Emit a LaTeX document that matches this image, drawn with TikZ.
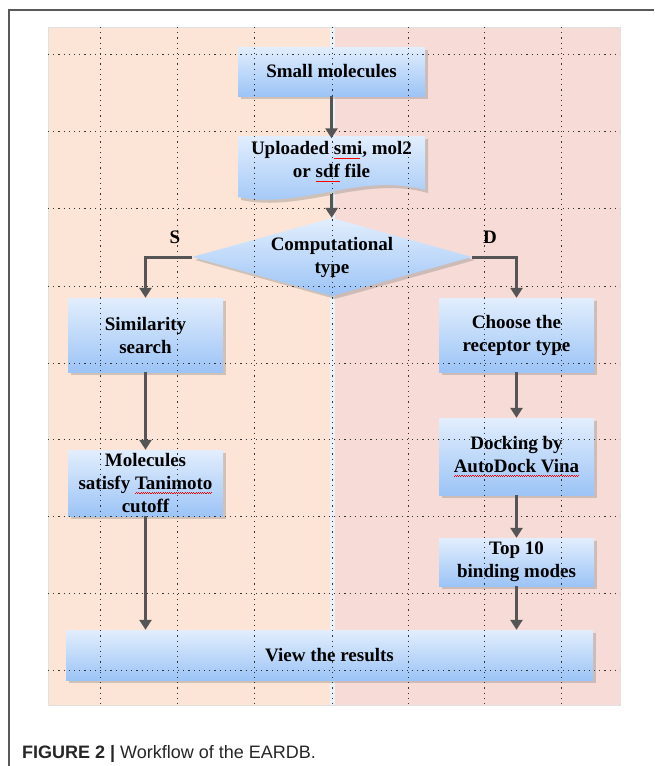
\documentclass[tikz,border=0pt]{standalone}
\usepackage{fontspec}
\setmainfont{Liberation Serif}
\newfontfamily\capfont{Liberation Sans}
\usepackage{tikz}
\usetikzlibrary{shapes.geometric, shadows}
\usetikzlibrary{arrows.meta}
\tikzset{>={Triangle[width=12pt,length=10pt]}}
\definecolor{boxtop}{RGB}{226,238,253}
\definecolor{boxbot}{RGB}{156,196,246}
\definecolor{leftbg}{RGB}{252,229,214}
\definecolor{rightbg}{RGB}{247,219,215}
\definecolor{gapbg}{RGB}{234,242,246}
\definecolor{flowgray}{RGB}{85,85,85}
\tikzset{
  stepbox/.style={top color=boxtop, bottom color=boxbot, minimum width=155pt, inner ysep=0pt,
    align=center, font=\fontsize{19}{23}\selectfont\bfseries,
    drop shadow={shadow xshift=3pt, shadow yshift=-3pt, opacity=0.35}},
  flow/.style={->, draw=flowgray, line width=3pt},
  gridline/.style={dash pattern=on 1.2pt off 4pt, line width=1pt, black!80}
}
\newsavebox\spellbox
\newcommand\spellmark[1]{\sbox\spellbox{#1}\rlap{\color{red}\hbox to\wd\spellbox{\leaders\hbox{\rule[-4.2pt]{1.1pt}{0.7pt}\rule[-3.3pt]{1.1pt}{0.7pt}}\hfill}}\usebox\spellbox}

\begin{document}
\begin{tikzpicture}[x=1pt, y=-1pt]
    \useasboundingbox (0,0) rectangle (654,766);

    \fill[leftbg] (48,27) rectangle (330,705);
    \fill[rightbg] (335,27) rectangle (620,705);
    \fill[gapbg] (330,27) rectangle (335,705);
    \draw[black!12] (48,27) rectangle (620,705);
    \draw[black!65, line width=1.3pt] (654,10) -- (9,10) -- (9,766);

    \node[stepbox, minimum width=187pt, minimum height=49pt] (smol) at (331.5,71.5) {Small molecules};

    \path[top color=boxtop, bottom color=boxbot, drop shadow={shadow xshift=3pt, shadow yshift=-3pt, opacity=0.35}]
        (238,136) -- (425,136) -- (425,190) .. controls (360,172) and (300,210) .. (238,197) -- cycle;
    \node[align=center, font=\fontsize{19}{23}\selectfont\bfseries, minimum width=187pt] (upl) at (331.5,162)
        {Uploaded \spellmark{smi}, mol2\\or \spellmark{sdf} file};
    \coordinate (uplbot) at (331.5,194);

    \node[stepbox, diamond, aspect=3.6, minimum width=280pt, minimum height=78pt, inner sep=0pt] (comp) at (332,257)
        {Computational\\type};
    \node[font=\fontsize{19}{23}\selectfont\bfseries] (lblS) at (175,237) {S};
    \node[font=\fontsize{19}{23}\selectfont\bfseries] (lblD) at (490,237) {D};

    \node[stepbox, minimum height=74pt] (sim) at (145.5,335) {Similarity\\search};
    \node[stepbox, minimum height=74pt] (rec) at (516.5,335) {Choose the\\receptor type};
    \node[stepbox, minimum height=66pt] (mol) at (145.5,483) {Molecules\\satisfy \spellmark{Tanimoto}\\cutoff};
    \node[stepbox, minimum height=77pt] (dock) at (516.5,456.5) {Docking by\\\spellmark{AutoDock Vina}};
    \node[stepbox, minimum height=48pt] (top) at (516.5,562) {Top 10\\binding modes};
    \node[stepbox, minimum width=527pt, minimum height=50pt] (view) at (329.5,655) {View the results};

    \draw[gridline] (100,27) -- (100,705);
    \draw[gridline] (177,27) -- (177,705);
    \draw[gridline] (254,27) -- (254,705);
    \draw[gridline] (332,27) -- (332,705);
    \draw[gridline] (408,27) -- (408,705);
    \draw[gridline] (484,27) -- (484,705);
    \draw[gridline] (561,27) -- (561,705);
    \draw[gridline] (48,54) -- (620,54);
    \draw[gridline] (48,131) -- (620,131);
    \draw[gridline] (48,208) -- (620,208);
    \draw[gridline] (48,286) -- (620,286);
    \draw[gridline] (48,363) -- (620,363);
    \draw[gridline] (48,439) -- (620,439);
    \draw[gridline] (48,516) -- (620,516);
    \draw[gridline] (48,593) -- (620,593);
    \draw[gridline] (48,670) -- (620,670);

    \draw[flow] (smol) -- (upl);
    \draw[flow] (uplbot) -- (comp);
    \draw[flow] (comp.west) -| (sim.north);
    \draw[flow] (comp.east) -| (rec.north);
    \draw[flow] (sim) -- (mol);
    \draw[flow] (rec) -- (dock);
    \draw[flow] (dock) -- (top);
    \draw[flow] (mol.south) -- (mol.south |- view.north);
    \draw[flow] (top.south) -- (top.south |- view.north);

    \node[anchor=base west, inner sep=0pt, text=black!85, font=\capfont\fontsize{18}{22}\selectfont] (cap) at (22,758)
        {\textbf{FIGURE 2 |} Workflow of the EARDB.};
\end{tikzpicture}
\end{document}
